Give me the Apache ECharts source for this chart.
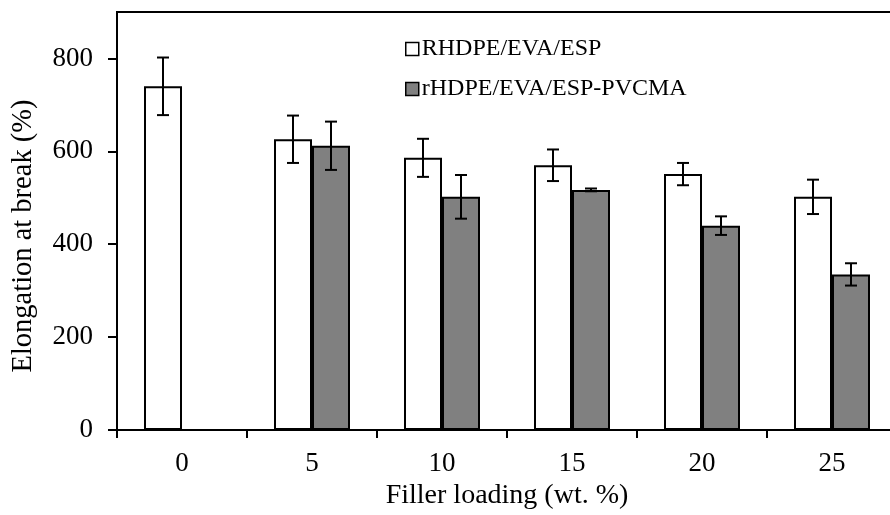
<!DOCTYPE html>
<html>
<head>
<meta charset="utf-8">
<script src="https://cdn.jsdelivr.net/npm/echarts@6/dist/echarts.min.js"></script>
<style>
  html, body { margin: 0; padding: 0; background: #fff; }
  #chart { width: 890px; height: 515px; }
</style>
</head>
<body>
<div id="chart"></div>
<script>
const categories = ['0', '5', '10', '15', '20', '25']
const yTicks = [0, 200, 400, 600, 800]

const rhdpe = [740, 626, 586, 570, 551, 502]
const rhdpeErr = [62, 51, 41, 34, 24, 37]
const pvcma = [null, 612, 502, 517, 440, 335]
const pvcmaErr = [null, 52, 47, 3, 20, 24]

const FONT = 'Liberation Serif'
const BAR_W = 38

function errData(vals, errs) {
  const out = []
  vals.forEach((v, i) => {
    if (v == null || errs[i] == null) return
    out.push([i, v - errs[i], v + errs[i]])
  })
  return out
}

function errSeries(vals, errs, offset) {
  return {
    type: 'custom',
    z: 10,
    silent: true,
    data: errData(vals, errs),
    encode: { x: 0, y: [1, 2] },
    renderItem: function (params, api) {
      const lo = api.coord([api.value(0), api.value(1)])
      const hi = api.coord([api.value(0), api.value(2)])
      const x = lo[0] + offset
      const cap = 6
      const style = { stroke: '#000', lineWidth: 2 }
      return {
        type: 'group',
        children: [
          { type: 'line', shape: { x1: x, y1: lo[1], x2: x, y2: hi[1] }, style: style },
          { type: 'line', shape: { x1: x - cap, y1: lo[1], x2: x + cap, y2: lo[1] }, style: style },
          { type: 'line', shape: { x1: x - cap, y1: hi[1], x2: x + cap, y2: hi[1] }, style: style }
        ]
      }
    }
  }
}

const chart = echarts.init(document.getElementById('chart'), null, { renderer: 'canvas' })

const option = {
  animation: false,
  backgroundColor: '#fff',
  textStyle: { fontFamily: FONT, color: '#000' },
  grid: {
    left: 117, right: -7, top: 12, bottom: 85,
    show: true, borderColor: '#000', borderWidth: 2,
    containLabel: false, outerBoundsMode: 'none'
  },
  legend: {
    orient: 'vertical',
    left: 400, top: 32,
    itemWidth: 13, itemHeight: 13, itemGap: 16,
    icon: 'rect',
    textStyle: { fontFamily: FONT, fontSize: 24, color: '#000', padding: [0, 0, 0, -2] },
    data: [
      { name: 'RHDPE/EVA/ESP', itemStyle: { color: '#fff', borderColor: '#000', borderWidth: 1.5 } },
      { name: 'rHDPE/EVA/ESP-PVCMA', itemStyle: { color: '#808080', borderColor: '#000', borderWidth: 1.5 } }
    ]
  },
  xAxis: {
    type: 'category',
    data: categories,
    name: 'Filler loading (wt. %)',
    nameLocation: 'middle',
    nameGap: 47,
    nameTextStyle: { fontFamily: FONT, fontSize: 28, color: '#000' },
    axisLine: { lineStyle: { color: '#000', width: 2 } },
    axisTick: { show: true, length: 8, lineStyle: { color: '#000', width: 2 } },
    axisLabel: { fontFamily: FONT, fontSize: 27, color: '#000', margin: 20 },
    splitLine: { show: false }
  },
  yAxis: {
    type: 'value',
    min: 0, max: 900, interval: 200,
    name: 'Elongation at break (%)',
    nameLocation: 'middle',
    nameGap: 79,
    nameRotate: 90,
    nameTextStyle: { fontFamily: FONT, fontSize: 28.5, color: '#000', padding: [0, 30, 0, 0] },
    axisLine: { show: true, lineStyle: { color: '#000', width: 2 } },
    axisTick: { show: true, length: 9, customValues: yTicks, lineStyle: { color: '#000', width: 2 } },
    axisLabel: { fontFamily: FONT, fontSize: 27, color: '#000', margin: 24, customValues: yTicks },
    splitLine: { show: false }
  },
  series: [
    {
      name: 'RHDPE/EVA/ESP',
      type: 'bar',
      data: rhdpe,
      barWidth: BAR_W,
      barGap: '0%',
      itemStyle: { color: '#fff', borderColor: '#000', borderWidth: 2 }
    },
    {
      name: 'rHDPE/EVA/ESP-PVCMA',
      type: 'bar',
      data: pvcma,
      barWidth: BAR_W,
      barGap: '0%',
      itemStyle: { color: '#808080', borderColor: '#000', borderWidth: 2 }
    },
    errSeries(rhdpe, rhdpeErr, -BAR_W / 2),
    errSeries(pvcma, pvcmaErr, BAR_W / 2)
  ]
}

chart.setOption(option)
</script>
</body>
</html>
